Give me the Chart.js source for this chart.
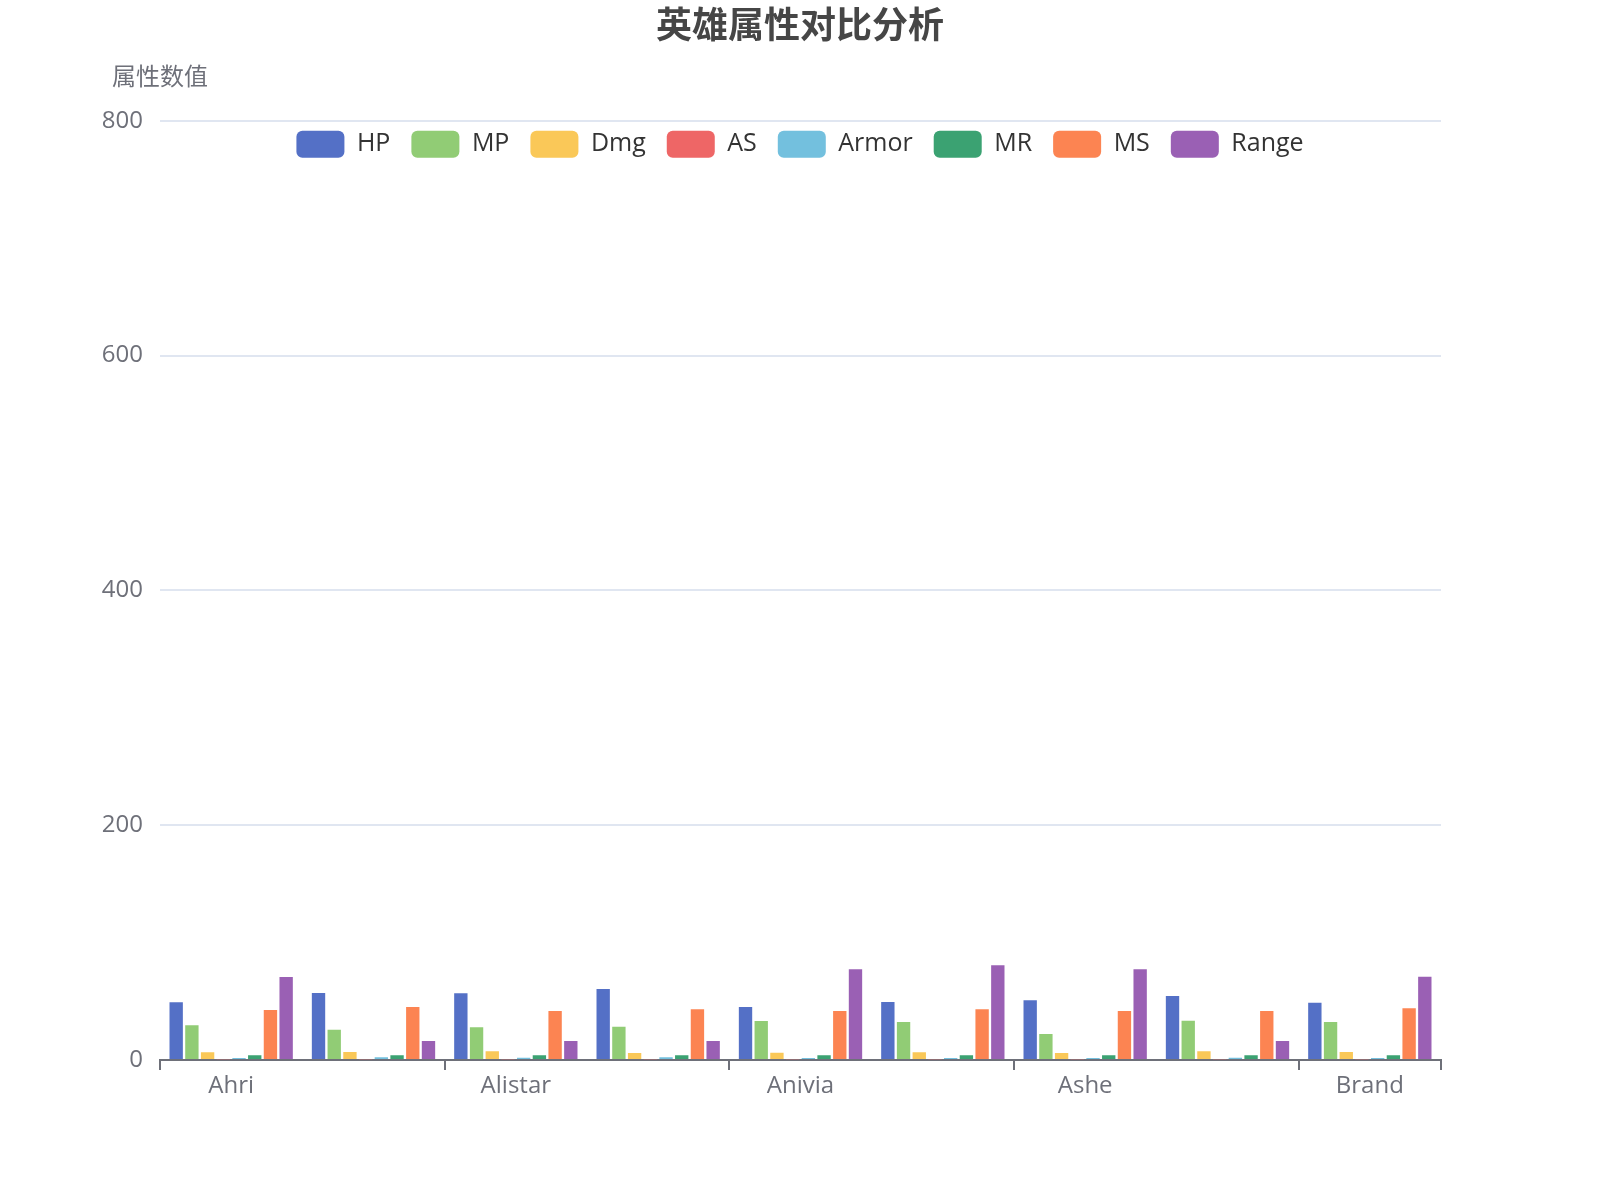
<!DOCTYPE html>
<html>
<head>
<meta charset="utf-8">
<title>英雄属性对比分析</title>
<script src="https://cdn.jsdelivr.net/npm/chart.js@4.4.1/dist/chart.umd.min.js"></script>
<style>
  html, body { margin: 0; padding: 0; background: #fff; }
  #wrap { width: 1600px; height: 1200px; }
</style>
</head>
<body>
<div id="wrap"><canvas id="heroChart" width="1600" height="1200"></canvas></div>
<script>
/* ====== DATA ====== */
const heroes = ['Ahri', 'Akali', 'Alistar', 'Amumu', 'Anivia', 'Annie', 'Ashe', 'Blitzcrank', 'Brand'];

const hpVals    = [49.1, 57.1, 56.8, 60.5, 45.1, 49.4, 50.8, 54.5, 48.8];
const mpVals    = [29.5, 25.8, 27.8, 28.4, 33.2, 32.4, 22.1, 33.5, 32.4];
const dmgVals   = [6.5, 6.8, 7.4, 6.0, 6.2, 6.5, 6.0, 7.4, 6.8];
const asVals    = [0.67, 0.69, 0.63, 0.64, 0.63, 0.58, 0.66, 0.63, 0.63];
const armorVals = [1.7, 2.3, 2.0, 2.3, 1.7, 1.7, 1.7, 2.0, 1.7];
const mrVals    = [4.0, 4.0, 4.0, 4.0, 4.0, 4.0, 4.0, 4.0, 4.0];
const msVals    = [42.6, 45.1, 41.7, 43.2, 41.7, 43.2, 41.7, 41.7, 44.0];
const rangeVals = [70.7, 16.2, 16.2, 16.2, 77.2, 80.6, 77.2, 16.2, 71.0];

const seriesNames = ['HP', 'MP', 'Dmg', 'AS', 'Armor', 'MR', 'MS', 'Range'];
const seriesData = [hpVals, mpVals, dmgVals, asVals, armorVals, mrVals, msVals, rangeVals];
const palette = ['#5470c6', '#91cc75', '#fac858', '#ee6666', '#73c0de', '#3ba272', '#fc8452', '#9a60b4'];

const yTicks = [0, 200, 400, 600, 800];
const yAxisName = '属性数值';
const chartTitle = '英雄属性对比分析';

const FONT = '"Open Sans", "Noto Sans CJK SC", sans-serif';
const AXIS_GREY = '#6e7079';

/* ====== SMALL PLUGINS ====== */
// axis name above the y axis, like echarts puts it
const yNamePlugin = {
    id: 'yName',
    afterDraw(chart) {
        const c = chart.ctx;
        c.save();
        c.font = '24px ' + FONT;
        c.fillStyle = AXIS_GREY;
        c.textAlign = 'center';
        c.textBaseline = 'middle';
        c.fillText(yAxisName, chart.chartArea.left, 78);
        c.restore();
    }
};

// legend is laid out on top, then dropped onto the plot just under the 800 line
// (legend clips to its own box, so move bottom too)
const legendNudge = {
    id: 'legendNudge',
    afterLayout(chart) {
        const lg = chart.legend;
        if (!lg) return;
        const h = lg.height;
        lg.top = chart.chartArea.top - 11;
        lg.bottom = lg.top + h;
    }
};

/* ====== CHART ====== */
const ctx = document.getElementById('heroChart').getContext('2d');

new Chart(ctx, {
    type: 'bar',
    data: {
        labels: heroes,
        datasets: seriesNames.map((name, i) => ({
            label: name,
            data: seriesData[i],
            backgroundColor: palette[i],
            borderWidth: 0,
            categoryPercentage: 0.883,
            barPercentage: 0.85
        }))
    },
    options: {
        responsive: false,
        animation: false,
        devicePixelRatio: 1,
        layout: { padding: 0 },
        scales: {
            x: {
                offset: true,
                afterFit: (s) => { s.height = 140; },
                grid: {
                    offset: true,
                    drawOnChartArea: false,
                    drawTicks: true,
                    tickLength: 10,
                    tickWidth: 2,
                    lineWidth: 2,
                    color: (c) => (c.type !== 'tick' || c.index % 2 === 0) ? AXIS_GREY : 'rgba(0,0,0,0)',
                    tickColor: (c) => (c.type !== 'tick' || c.index % 2 === 0) ? AXIS_GREY : 'rgba(0,0,0,0)'
                },
                border: { display: true, color: AXIS_GREY, width: 2 },
                ticks: {
                    autoSkip: false,
                    maxRotation: 0,
                    padding: 2,
                    color: AXIS_GREY,
                    font: { size: 24, family: FONT },
                    callback: function (val, i) {
                        return i % 2 === 0 ? this.getLabelForValue(val) : '';
                    }
                }
            },
            y: {
                min: 0,
                max: 800,
                afterFit: (s) => { s.width = 160; },
                afterBuildTicks: (s) => { s.ticks = yTicks.map(v => ({ value: v })); },
                grid: { color: '#e0e6f1', lineWidth: 2, drawTicks: false },
                border: { display: false },
                ticks: {
                    padding: 17,
                    color: AXIS_GREY,
                    font: { size: 24, family: FONT }
                }
            },
            // empty right gutter so the plot ends where the reference does
            gutter: {
                position: 'right',
                afterFit: (s) => { s.width = 159; },
                grid: { display: false },
                border: { display: false },
                ticks: { display: false }
            }
        },
        plugins: {
            title: {
                display: true,
                text: chartTitle,
                color: '#464646',
                font: { size: 36, weight: 'bold', family: '"Noto Sans CJK SC", sans-serif' },
                padding: { top: 3, bottom: 16.5 }
            },
            legend: {
                position: 'top',
                align: 'center',
                labels: {
                    boxWidth: 48,
                    boxHeight: 27,
                    useBorderRadius: true,
                    borderRadius: 6,
                    padding: 21,
                    color: '#333',
                    font: { size: 25, family: FONT }
                }
            },
            tooltip: { enabled: false }
        }
    },
    plugins: [yNamePlugin, legendNudge]
});
</script>
</body>
</html>
